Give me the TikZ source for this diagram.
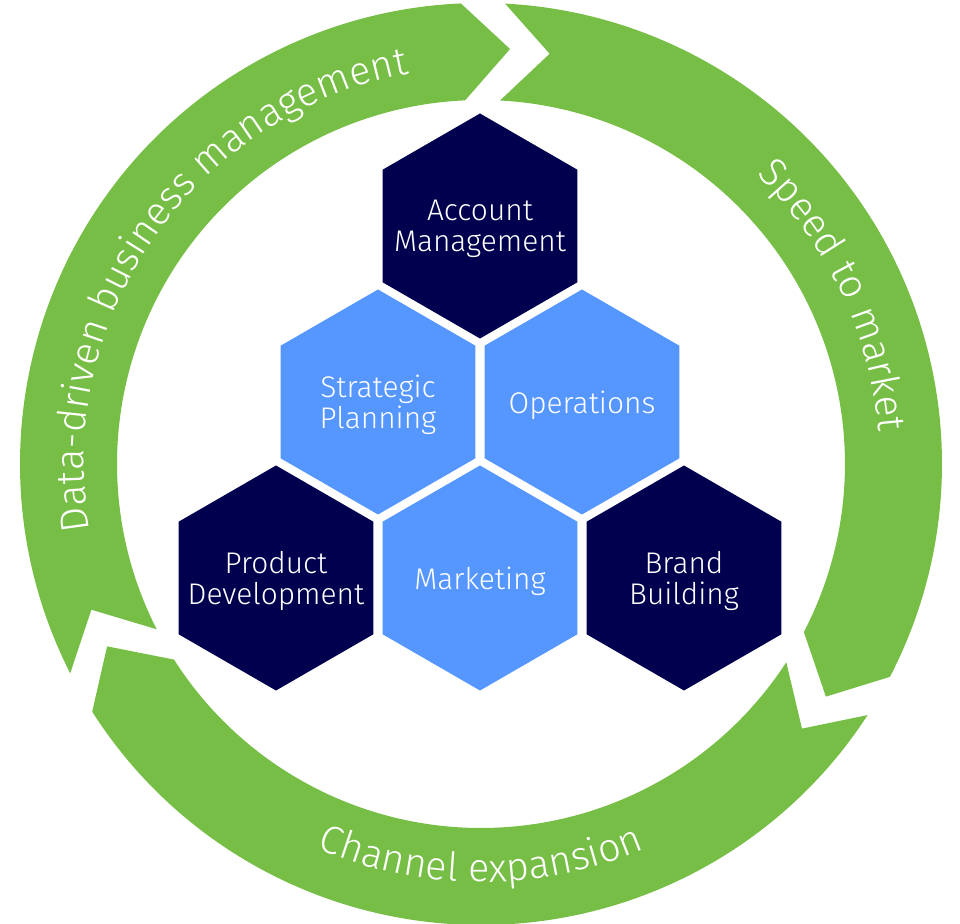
\documentclass[tikz,border=0pt]{standalone}
\usepackage{fontspec}
\setmainfont{Fira Sans Light}
\usepackage{xcolor}
\usetikzlibrary{positioning,shapes.geometric,decorations.text}
\definecolor{navy}{HTML}{00004E}
\definecolor{skyblue}{HTML}{5596FF}
\definecolor{leafgreen}{HTML}{76BE45}
\def\ringout{9.22}
\def\ringin{7.28}
\def\ringmid{8.32}
\begin{document}
\begin{tikzpicture}[on grid,
  hex/.style={regular polygon,regular polygon sides=6,shape border rotate=30,minimum size=4.5cm,inner sep=-1cm,align=center,text depth=-1.5pt,text=white,font=\fontsize{17}{17.6}\selectfont},
  hexdark/.style={hex,fill=navy},
  hexlight/.style={hex,fill=skyblue},
  ringtext/.style={decorate,decoration={text along path,text align=center,text color=white,text={|\fontsize{22.5}{26}\selectfont|#1}}}]
\path[use as bounding box,fill=white] (-9.62,-9.20) rectangle (9.58,9.28);
% three arrows round the ring
\foreach \t in {207,87,-33}
  \fill[leafgreen] (\t:\ringout) arc[start angle=\t,end angle=\t-114.5,radius=\ringout]
    -- (\t-121:\ringmid) -- (\t-114.5:\ringin)
    arc[start angle=\t-114.5,end angle=\t,radius=\ringin] -- (\t-6.5:\ringmid) -- cycle;
\path[ringtext={Data-driven business management}] (200:7.94) arc[start angle=200,end angle=90,radius=7.94];
\path[ringtext={Speed to market}] (60.5:7.98) arc[start angle=60.5,end angle=-9.5,radius=7.98];
\path[ringtext={Channel expansion}] (230:8.36) arc[start angle=230,end angle=310,radius=8.36];
% hexagons
\node[hexdark] (account) at (-0.02,4.76) {Account\\Management};
\node[hexlight,below left=3.52cm and 2.04cm of account] (strategic) {Strategic\\Planning};
\node[hexlight,below right=3.52cm and 2.04cm of account] (operations) {Operations};
\node[hexdark,below left=3.52cm and 2.04cm of strategic] (product) {Product\\Development};
\node[hexlight,below right=3.52cm and 2.04cm of strategic] (marketing) {Marketing};
\node[hexdark,below right=3.52cm and 2.04cm of operations] (brand) {Brand\\Building};
\end{tikzpicture}
\end{document}
